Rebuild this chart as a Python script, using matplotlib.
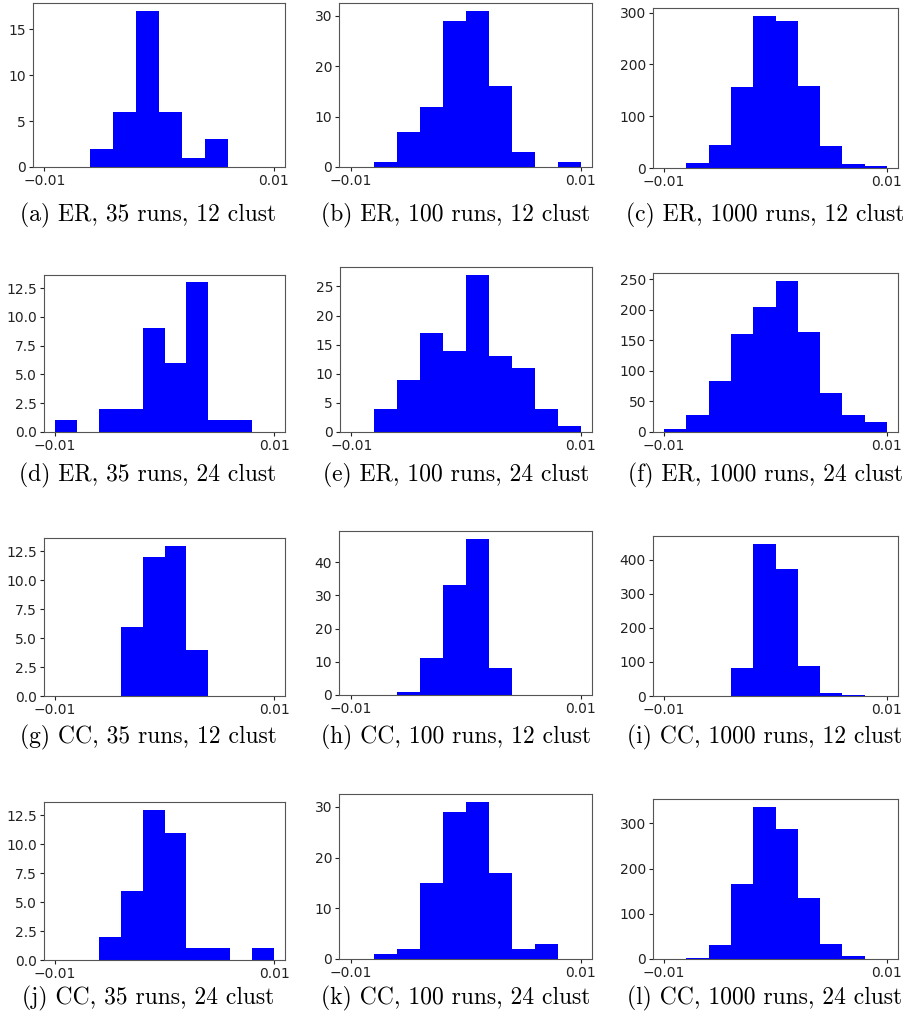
import numpy as np
import matplotlib
matplotlib.use("Agg")
from matplotlib import pyplot as plt
from matplotlib.ticker import MultipleLocator

# bin edges shared by every panel: 10 bins over [-0.01, 0.01]
edges = np.linspace(-0.01, 0.01, 11)

# counts per bin
er_35_12 = [0, 0, 2, 6, 17, 6, 1, 3, 0, 0]
er_100_12 = [0, 1, 7, 12, 29, 31, 16, 3, 0, 1]
er_1000_12 = [0, 10, 45, 156, 294, 284, 158, 43, 7, 3]
er_35_24 = [1, 0, 2, 2, 9, 6, 13, 1, 1, 0]
er_100_24 = [0, 4, 9, 17, 14, 27, 13, 11, 4, 1]
er_1000_24 = [5, 28, 84, 160, 204, 248, 163, 64, 28, 16]
cc_35_12 = [0, 0, 0, 6, 12, 13, 4, 0, 0, 0]
cc_100_12 = [0, 0, 1, 11, 33, 47, 8, 0, 0, 0]
cc_1000_12 = [0, 0, 0, 82, 447, 372, 89, 8, 2, 0]
cc_35_24 = [0, 0, 2, 6, 13, 11, 1, 1, 0, 1]
cc_100_24 = [0, 1, 2, 15, 29, 31, 17, 2, 3, 0]
cc_1000_24 = [0, 2, 32, 165, 337, 288, 136, 34, 6, 0]

captions = [
    "(a) ER, 35 runs, 12 clust", "(b) ER, 100 runs, 12 clust", "(c) ER, 1000 runs, 12 clust",
    "(d) ER, 35 runs, 24 clust", "(e) ER, 100 runs, 24 clust", "(f) ER, 1000 runs, 24 clust",
    "(g) CC, 35 runs, 12 clust", "(h) CC, 100 runs, 12 clust", "(i) CC, 1000 runs, 12 clust",
    "(j) CC, 35 runs, 24 clust", "(k) CC, 100 runs, 24 clust", "(l) CC, 1000 runs, 24 clust",
]
panels = [er_35_12, er_100_12, er_1000_12,
          er_35_24, er_100_24, er_1000_24,
          cc_35_12, cc_100_12, cc_1000_12,
          cc_35_24, cc_100_24, cc_1000_24]
# y tick spacing per panel, as shown in the reference
ysteps = [5, 10, 100, 2.5, 5, 50, 2.5, 10, 100, 2.5, 10, 100]

W, H = 910, 1025
fig = plt.figure(figsize=(W / 100, H / 100), dpi=100)

# axes boxes in pixels: (left, top, right, bottom)
boxes = [
    (33, 3, 285, 167), (339, 3, 592, 167), (653, 8, 898, 168),
    (44, 275, 285, 432), (340, 267, 592, 432), (653, 273, 898, 432),
    (44, 538, 285, 696), (339, 531, 592, 695), (653, 536, 898, 696),
    (44, 802, 285, 960), (339, 794, 592, 959), (653, 799, 898, 959),
]
cap_x = [148, 456, 765]
cap_y = [215, 475, 737, 998]

centers = (edges[:-1] + edges[1:]) / 2
for i, (counts, cap) in enumerate(zip(panels, captions)):
    l, t, r, b = boxes[i]
    ax = fig.add_axes([l / W, 1 - b / H, (r - l) / W, (b - t) / H])
    ax.hist(centers, bins=edges, weights=counts, color="blue")
    ax.set_xticks([-0.01, 0.01])
    ax.yaxis.set_major_locator(MultipleLocator(ysteps[i]))
    ax.tick_params(labelsize=10, length=3, pad=2, colors="#222222")
    for s in ax.spines.values():
        s.set_color("#555555")
        s.set_linewidth(0.8)
    fig.text(cap_x[i % 3] / W, 1 - cap_y[i // 3] / H, cap,
             ha="center", va="center", fontsize=17, family="cmr10")

fig.savefig("out.png", dpi=100)
